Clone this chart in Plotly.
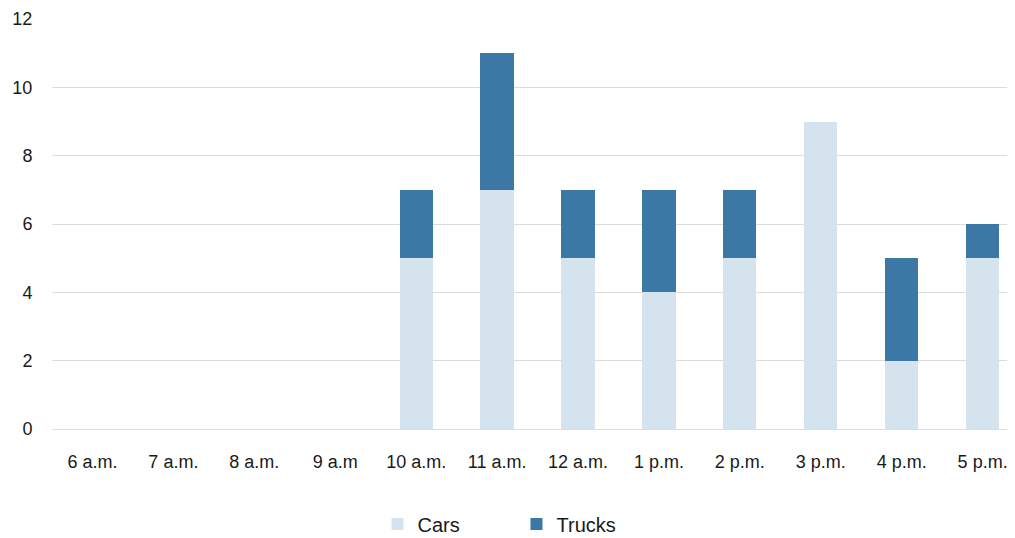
import plotly.graph_objects as go

hours = ["6 a.m.", "7 a.m.", "8 a.m.", "9 a.m", "10 a.m.", "11 a.m.",
         "12 a.m.", "1 p.m.", "2 p.m.", "3 p.m.", "4 p.m.", "5 p.m."]
cars = [0, 0, 0, 0, 5, 7, 5, 4, 5, 9, 2, 5]
trucks = [0, 0, 0, 0, 2, 4, 2, 3, 2, 0, 3, 1]

fig = go.Figure()
fig.add_trace(go.Bar(x=hours, y=cars, name="Cars", marker_color="#d5e3ee",
                     marker_line_width=0))
fig.add_trace(go.Bar(x=hours, y=trucks, name="Trucks", marker_color="#3c78a5",
                     marker_line_width=0))

# page body has an 8px margin, so the figure is a bit smaller than the window
fig.update_layout(
    barmode="stack",
    bargap=0.59,
    width=1007, height=530,
    margin=dict(l=44, r=0, t=11, b=109, autoexpand=False),
    plot_bgcolor="white",
    paper_bgcolor="white",
    font=dict(family="Liberation Sans, Arial, sans-serif", size=18, color="#1a1a1a"),
    legend=dict(orientation="h", x=0.338, xanchor="left", y=-0.232, yanchor="middle",
                entrywidth=94, entrywidthmode="pixels", font=dict(size=20),
                traceorder="normal"),
)
fig.update_xaxes(range=[-0.5, 11.4], showgrid=False, showline=False, ticks="outside",
                 ticklen=16, tickcolor="rgba(0,0,0,0)")
fig.update_yaxes(range=[0, 12], dtick=2, showgrid=True, gridcolor="#dcdcdc",
                 zeroline=True, zerolinecolor="#dcdcdc", zerolinewidth=1,
                 ticks="outside", ticklen=15, tickcolor="rgba(0,0,0,0)")

fig.write_html("out.html")
